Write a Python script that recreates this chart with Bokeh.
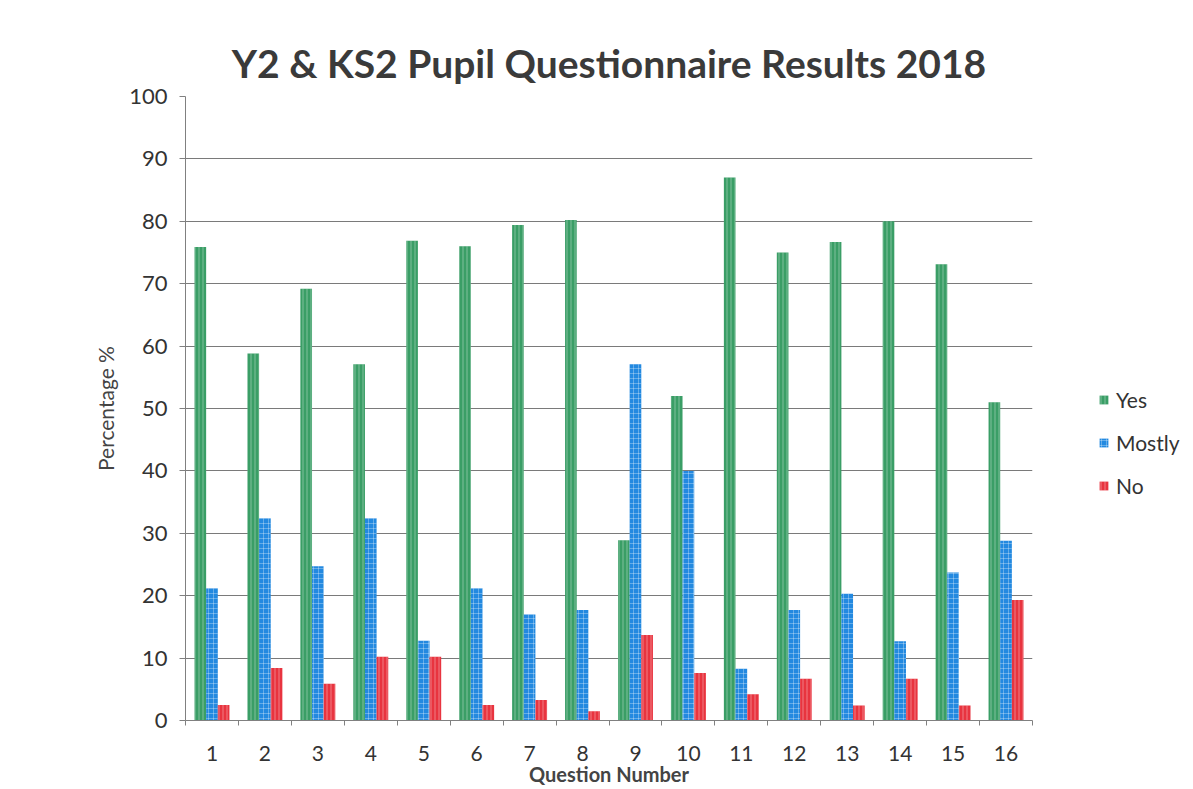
from bokeh.plotting import figure
from bokeh.models import ColumnDataSource, FixedTicker, Legend, LegendItem, Range1d
from bokeh.transform import dodge
from bokeh.embed import file_html
from bokeh.resources import INLINE

questions = list(range(1, 17))
yes = [75.9, 58.8, 69.2, 57.1, 76.9, 76.0, 79.4, 80.2, 28.9, 52.0, 87.0, 75.0, 76.7, 80.0, 73.1, 51.0]
mostly = [21.2, 32.4, 24.7, 32.4, 12.8, 21.2, 17.0, 17.7, 57.1, 40.0, 8.3, 17.7, 20.3, 12.7, 23.7, 28.8]
no = [2.5, 8.4, 5.9, 10.2, 10.2, 2.5, 3.3, 1.5, 13.7, 7.6, 4.2, 6.7, 2.4, 6.7, 2.4, 19.3]
y_ticks = list(range(0, 101, 10))

src = ColumnDataSource(dict(q=questions, yes=yes, mostly=mostly, no=no))

FONT = "Lato"
p = figure(
    frame_width=847, frame_height=624,
    min_border_left=185, min_border_right=150, min_border_top=96, min_border_bottom=62,
    x_range=Range1d(0.5, 16.5), y_range=Range1d(0, 100),
    output_backend="svg", toolbar_location=None,
    title="Y2 & KS2 Pupil Questionnaire Results 2018",
)
p.title.align = "center"
p.title.text_font = FONT
p.title.text_font_size = "39px"
p.title.text_font_style = "bold"
p.title.text_color = "#3a3a3a"
p.title.standoff = 22
p.outline_line_color = None

W = 0.22
r_yes = p.vbar(x=dodge("q", -W, range=p.x_range), top="yes", width=W, source=src,
               fill_color="#3a9e66", line_color=None,
               hatch_pattern="|", hatch_color="white", hatch_alpha=0.35, hatch_scale=4, hatch_weight=1)
r_most = p.vbar(x=dodge("q", 0, range=p.x_range), top="mostly", width=W, source=src,
                fill_color="#2389e0", line_color=None,
                hatch_pattern="+", hatch_color="white", hatch_alpha=0.3, hatch_scale=5, hatch_weight=1)
r_no = p.vbar(x=dodge("q", W, range=p.x_range), top="no", width=W, source=src,
              fill_color="#e8343f", line_color=None,
              hatch_pattern="|", hatch_color="white", hatch_alpha=0.35, hatch_scale=4, hatch_weight=1)

# x axis
p.xaxis.ticker = FixedTicker(ticks=questions, minor_ticks=[q - 0.5 for q in questions] + [16.5])
p.xaxis.major_tick_out = 0
p.xaxis.major_tick_in = 0
p.xaxis.minor_tick_out = 5
p.xaxis.minor_tick_in = 0
p.xaxis.major_label_standoff = 20
p.xaxis.axis_label = "Question Number"
p.xaxis.axis_label_text_font = FONT
p.xaxis.axis_label_text_font_style = "bold"
p.xaxis.axis_label_text_font_size = "20px"
p.xaxis.axis_label_standoff = -2
p.xaxis.major_label_text_font = FONT
p.xaxis.major_label_text_font_size = "21px"
p.xaxis.major_label_text_color = "#333333"
p.xaxis.axis_line_color = "#808080"
p.xaxis.minor_tick_line_color = "#808080"

# y axis
p.yaxis.ticker = FixedTicker(ticks=y_ticks)
p.yaxis.major_tick_out = 6
p.yaxis.major_tick_in = 0
p.yaxis.minor_tick_line_color = None
p.yaxis.major_label_standoff = 12
p.yaxis.major_label_text_font = FONT
p.yaxis.major_label_text_font_size = "22px"
p.yaxis.major_label_text_color = "#333333"
p.yaxis.axis_label = "Percentage %"
p.yaxis.axis_label_text_font = FONT
p.yaxis.axis_label_text_font_style = "normal"
p.yaxis.axis_label_text_font_size = "21px"
p.yaxis.axis_label_standoff = 8
p.yaxis.axis_line_color = "#808080"
p.yaxis.major_tick_line_color = "#808080"

p.xgrid.grid_line_color = None
p.ygrid.ticker = FixedTicker(ticks=y_ticks)
p.ygrid.grid_line_color = "#7a7a7a"
p.ygrid.grid_line_width = 1

legend = Legend(items=[
    LegendItem(label="Yes", renderers=[r_yes]),
    LegendItem(label="Mostly", renderers=[r_most]),
    LegendItem(label="No", renderers=[r_no]),
], location=(66, 222))
legend.border_line_color = None
legend.background_fill_alpha = 0
legend.padding = 0
legend.margin = 0
legend.spacing = 18
legend.glyph_width = 11
legend.glyph_height = 11
legend.label_standoff = 7
legend.label_text_font = FONT
legend.label_text_font_size = "21px"
legend.label_text_color = "#333333"
p.add_layout(legend, "right")

open("out.html", "w").write(file_html(p, INLINE))
